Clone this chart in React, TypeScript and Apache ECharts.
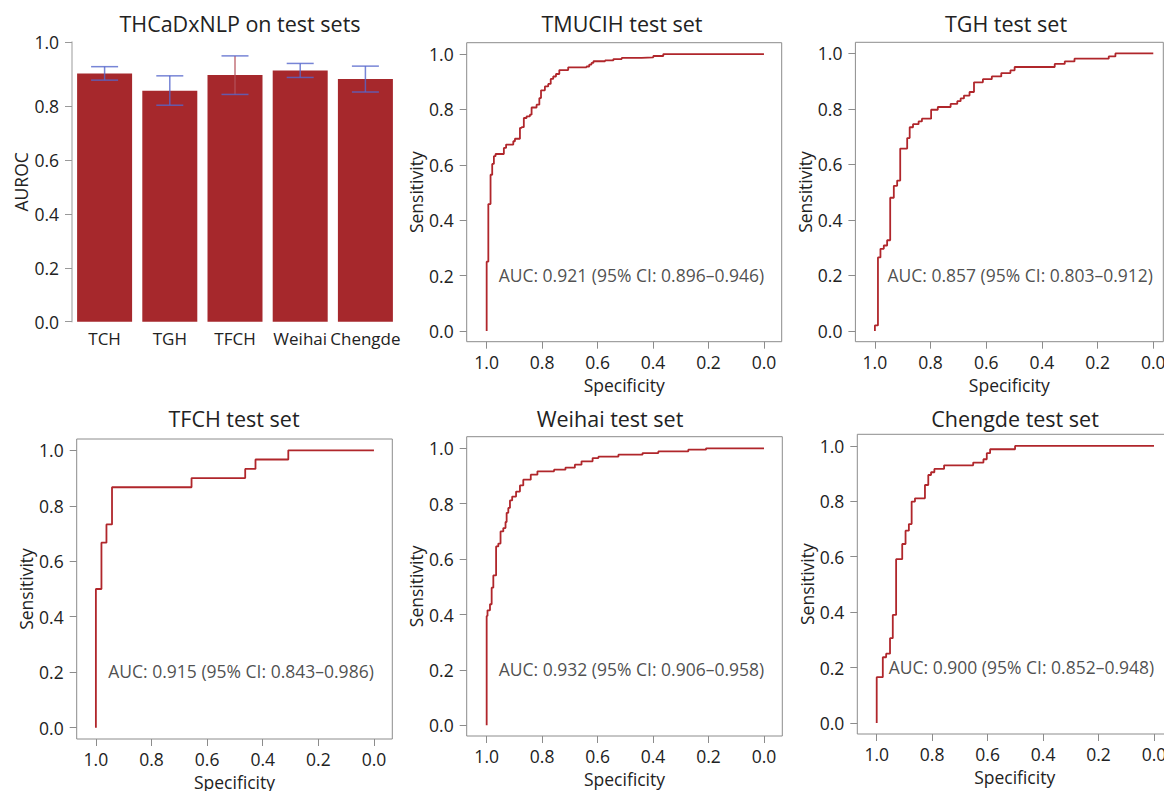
import React, { useEffect, useRef } from "react";
import * as echarts from "echarts";

// ---------------- data ----------------
const barCategories = ["TCH", "TGH", "TFCH", "Weihai", "Chengde"];
const rocTitles = ["TMUCIH test set", "TGH test set", "TFCH test set", "Weihai test set", "Chengde test set"];
const aucValues = [0.921, 0.857, 0.915, 0.932, 0.9];
const ciLower = [0.896, 0.803, 0.843, 0.906, 0.852];
const ciUpper = [0.946, 0.912, 0.986, 0.958, 0.948];

// bar chart y ticks (top tick of the original sits a little above 1.0)
const barTickValues = [0, 0.2, 0.4, 0.6, 0.8, 1.0375];
const barTickLabels = ["0.0", "0.2", "0.4", "0.6", "0.8", "1.0"];
const rocTickValues = [0, 0.2, 0.4, 0.6, 0.8, 1.0];

// ROC curves: specificity / sensitivity at each corner (horizontal move then vertical)
const tmucihSpec = [1, 1, 0.994, 0.986, 0.98, 0.974, 0.968, 0.938, 0.93, 0.904, 0.898, 0.88, 0.874, 0.866, 0.856, 0.844, 0.838, 0.82, 0.81, 0.804, 0.79, 0.778, 0.769, 0.76, 0.75, 0.738, 0.706, 0.64, 0.63, 0.622, 0.615, 0.573, 0.543, 0.513, 0.441, 0.399, 0.363, 0];
const tmucihSens = [0, 0.25, 0.458, 0.564, 0.603, 0.631, 0.639, 0.661, 0.673, 0.685, 0.694, 0.733, 0.736, 0.769, 0.775, 0.781, 0.807, 0.817, 0.841, 0.869, 0.883, 0.892, 0.91, 0.919, 0.928, 0.942, 0.952, 0.955, 0.962, 0.968, 0.974, 0.977, 0.982, 0.986, 0.988, 0.993, 1, 1];

const tghSpec = [1, 1, 0.989, 0.98, 0.968, 0.956, 0.945, 0.932, 0.92, 0.909, 0.884, 0.875, 0.863, 0.843, 0.831, 0.798, 0.774, 0.728, 0.704, 0.692, 0.68, 0.66, 0.644, 0.612, 0.58, 0.546, 0.513, 0.498, 0.354, 0.318, 0.283, 0.16, 0.136, 0];
const tghSens = [0, 0.02, 0.265, 0.296, 0.308, 0.327, 0.48, 0.523, 0.542, 0.657, 0.695, 0.734, 0.745, 0.755, 0.765, 0.797, 0.807, 0.818, 0.828, 0.838, 0.848, 0.861, 0.896, 0.907, 0.917, 0.929, 0.939, 0.951, 0.962, 0.971, 0.981, 0.989, 1, 1];

const tfchSpec = [1, 1, 0.98, 0.962, 0.942, 0.656, 0.463, 0.426, 0.308, 0];
const tfchSens = [0, 0.5, 0.667, 0.733, 0.867, 0.9, 0.933, 0.967, 1, 1];

const weihaiSpec = [1, 1, 0.997, 0.988, 0.982, 0.976, 0.966, 0.958, 0.95, 0.94, 0.932, 0.928, 0.922, 0.916, 0.908, 0.894, 0.88, 0.868, 0.841, 0.817, 0.757, 0.716, 0.682, 0.658, 0.618, 0.597, 0.525, 0.438, 0.381, 0.273, 0.209, 0];
const weihaiSens = [0, 0.395, 0.415, 0.437, 0.497, 0.541, 0.646, 0.656, 0.7, 0.712, 0.734, 0.767, 0.785, 0.812, 0.826, 0.844, 0.866, 0.887, 0.905, 0.917, 0.923, 0.93, 0.941, 0.953, 0.965, 0.97, 0.977, 0.983, 0.989, 0.995, 1, 1];

const chengdeSpec = [1, 1, 0.978, 0.966, 0.952, 0.942, 0.93, 0.908, 0.896, 0.884, 0.874, 0.862, 0.826, 0.814, 0.804, 0.792, 0.757, 0.652, 0.615, 0.603, 0.591, 0.501, 0];
const chengdeSens = [0, 0.165, 0.237, 0.25, 0.306, 0.39, 0.591, 0.646, 0.694, 0.718, 0.799, 0.811, 0.859, 0.895, 0.905, 0.917, 0.93, 0.94, 0.952, 0.974, 0.988, 1, 1];

const rocSpecs = [tmucihSpec, tghSpec, tfchSpec, weihaiSpec, chengdeSpec];
const rocSens = [tmucihSens, tghSens, tfchSens, weihaiSens, chengdeSens];
const aucLabelPos = [0.478, 0.203];

// ---------------- layout & style ----------------
const FONT = "Open Sans";
const TEXT = "#222222";
const LINE_RED = "#b0262b";
const BAR_RED = "#a6282c";
const FS = 17.5;

const rocLayout = [
  { left: 466.7, top: 42.7, width: 315, height: 299, xMin: -0.064, xMax: 1.072, yMin: -0.039, yMax: 1.041 },
  { left: 855.4, top: 42.3, width: 307.9, height: 299.4, xMin: -0.036, xMax: 1.07, yMin: -0.0385, yMax: 1.04 },
  { left: 76.7, top: 439, width: 315.6, height: 300, xMin: -0.066, xMax: 1.069, yMin: -0.041, yMax: 1.041 },
  { left: 466.7, top: 436.7, width: 315.6, height: 299.3, xMin: -0.066, xMax: 1.072, yMin: -0.0386, yMax: 1.042 },
  { left: 857.3, top: 434.3, width: 314.7, height: 299.7, xMin: -0.065, xMax: 1.07, yMin: -0.04, yMax: 1.042 },
];
const titleLayout = [
  { x: 240, y: 23 },
  { x: 622, y: 23 },
  { x: 1006, y: 23 },
  { x: 234, y: 418 },
  { x: 610, y: 418 },
  { x: 1015, y: 418 },
];
const errStemColors = ["#5566cc", "#5566cc", "#b4505a", "#5566cc", "#5566cc"];

function buildOption() {
  const grids: any[] = [
    { left: 72, top: 42, width: 326, height: 279.7, outerBoundsMode: "none" },
  ];
  const xAxes: any[] = [
    {
      type: "category",
      gridIndex: 0,
      data: barCategories,
      axisLine: { show: false, onZero: false },
      axisTick: { show: false },
      axisLabel: { color: TEXT, fontFamily: FONT, fontSize: 17, margin: 8, interval: 0 },
    },
  ];
  const yAxes: any[] = [
    {
      type: "value",
      gridIndex: 0,
      min: 0,
      max: barTickValues[barTickValues.length - 1],
      name: "AUROC",
      nameLocation: "middle",
      nameGap: 42,
      nameRotate: 90,
      nameTextStyle: { color: TEXT, fontFamily: FONT, fontSize: FS },
      splitLine: { show: false },
      axisLine: { show: true, onZero: false, lineStyle: { color: "#bdbdbd", width: 1.5 } },
      axisTick: { show: true, length: 7, lineStyle: { color: "#999" }, customValues: barTickValues },
      axisLabel: {
        color: TEXT,
        fontFamily: FONT,
        fontSize: FS,
        margin: 13,
        customValues: barTickValues,
        formatter: (v: number) => {
          const i = barTickValues.findIndex((t) => Math.abs(t - v) < 1e-6);
          return i >= 0 ? barTickLabels[i] : "";
        },
      },
    },
  ];
  const series: any[] = [
    {
      type: "bar",
      xAxisIndex: 0,
      yAxisIndex: 0,
      data: aucValues,
      barWidth: 55,
      itemStyle: { color: BAR_RED },
      silent: true,
    },
    {
      type: "custom",
      xAxisIndex: 0,
      yAxisIndex: 0,
      z: 10,
      silent: true,
      data: barCategories.map((_, i) => [i, ciLower[i], ciUpper[i]]),
      renderItem: (params: any, api: any) => {
        const idx = api.value(0);
        const lo = api.coord([idx, api.value(1)]);
        const hi = api.coord([idx, api.value(2)]);
        const hw = 13.5;
        const cap = { stroke: "#5566cc", lineWidth: 1.5, opacity: 0.8 };
        return {
          type: "group",
          children: [
            { type: "line", shape: { x1: lo[0], y1: lo[1], x2: hi[0], y2: hi[1] }, style: { stroke: errStemColors[params.dataIndex], lineWidth: 1.5, opacity: 0.8 } },
            { type: "line", shape: { x1: lo[0] - hw, y1: lo[1], x2: lo[0] + hw, y2: lo[1] }, style: cap },
            { type: "line", shape: { x1: hi[0] - hw, y1: hi[1], x2: hi[0] + hw, y2: hi[1] }, style: cap },
          ],
        };
      },
    },
  ];

  rocLayout.forEach((L, k) => {
    const gi = k + 1;
    grids.push({
      left: L.left,
      top: L.top,
      width: L.width,
      height: L.height,
      show: true,
      borderColor: "#8c8c8c",
      borderWidth: 1,
      backgroundColor: "transparent",
      outerBoundsMode: "none",
    });
    xAxes.push({
      type: "value",
      gridIndex: gi,
      inverse: true,
      min: L.xMin,
      max: L.xMax,
      position: "bottom",
      name: "Specificity",
      nameLocation: "middle",
      nameGap: 34,
      nameTextStyle: { color: TEXT, fontFamily: FONT, fontSize: FS },
      splitLine: { show: false },
      axisLine: { show: false, onZero: false },
      axisTick: { show: true, length: 7, lineStyle: { color: "#8c8c8c" }, customValues: rocTickValues },
      axisLabel: {
        color: TEXT,
        fontFamily: FONT,
        fontSize: FS,
        margin: 11,
        customValues: rocTickValues,
        formatter: (v: number) => v.toFixed(1),
      },
    });
    yAxes.push({
      type: "value",
      gridIndex: gi,
      min: L.yMin,
      max: L.yMax,
      position: "left",
      name: "Sensitivity",
      nameLocation: "middle",
      nameGap: 40,
      nameRotate: 90,
      nameTextStyle: { color: TEXT, fontFamily: FONT, fontSize: FS },
      splitLine: { show: false },
      axisLine: { show: false, onZero: false },
      axisTick: { show: true, length: 7, lineStyle: { color: "#8c8c8c" }, customValues: rocTickValues },
      axisLabel: {
        color: TEXT,
        fontFamily: FONT,
        fontSize: FS,
        margin: 13,
        customValues: rocTickValues,
        formatter: (v: number) => v.toFixed(1),
      },
    });
    series.push({
      type: "line",
      xAxisIndex: gi,
      yAxisIndex: gi,
      step: "end",
      showSymbol: false,
      silent: true,
      data: rocSpecs[k].map((s, j) => [s, rocSens[k][j]]),
      lineStyle: { color: LINE_RED, width: 1.8 },
    });
    series.push({
      type: "scatter",
      xAxisIndex: gi,
      yAxisIndex: gi,
      silent: true,
      symbolSize: 0,
      data: [aucLabelPos],
      label: {
        show: true,
        position: "inside",
        color: TEXT,
        fontFamily: FONT,
        fontSize: FS,
        formatter: () =>
          `AUC: ${aucValues[k].toFixed(3)} (95% CI: ${ciLower[k].toFixed(3)}\u2013${ciUpper[k].toFixed(3)})`,
      },
    });
  });

  const titles = ["THCaDxNLP on test sets", ...rocTitles];
  const graphic = titles.map((t, i) => ({
    type: "text",
    x: titleLayout[i].x,
    y: titleLayout[i].y,
    silent: true,
    style: {
      text: t,
      fill: TEXT,
      font: `21.5px "${FONT}"`,
      textAlign: "center",
      textVerticalAlign: "middle",
    },
  }));

  return {
    animation: false,
    backgroundColor: "#ffffff",
    textStyle: { fontFamily: FONT },
    grid: grids,
    xAxis: xAxes,
    yAxis: yAxes,
    series,
    graphic,
  };
}

export default function App() {
  const ref = useRef<HTMLDivElement | null>(null);
  useEffect(() => {
    if (!ref.current) return;
    const chart = echarts.init(ref.current, undefined, { renderer: "svg", width: 1164, height: 791 });
    chart.setOption(buildOption() as any);
    return () => chart.dispose();
  }, []);
  return (
    <div
      ref={ref}
      style={{ position: "fixed", left: 0, top: 0, width: 1164, height: 791, background: "#fff" }}
    />
  );
}
